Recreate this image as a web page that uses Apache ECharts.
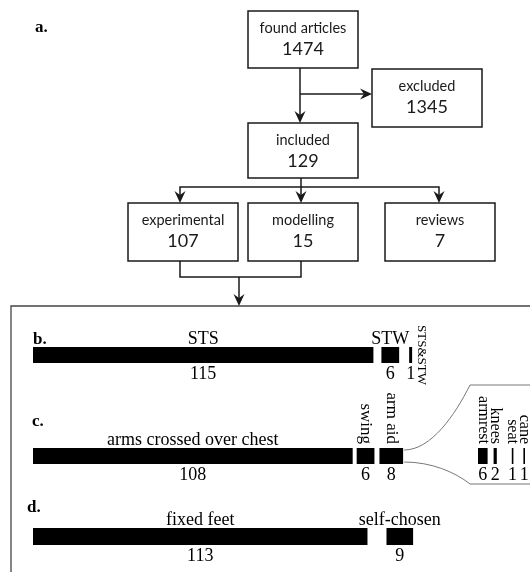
<!DOCTYPE html>
<html><head><meta charset="utf-8">
<script src="https://cdn.jsdelivr.net/npm/echarts@6/dist/echarts.min.js"></script>
<style>html,body{margin:0;padding:0;background:#fff}#c{width:530px;height:572px}</style>
</head><body><div id="c"></div>
<script>
// ---- data ----
const flowLabels = ['found articles', 'excluded', 'included', 'experimental', 'modelling', 'reviews'];
const flowCounts = [1474, 1345, 129, 107, 15, 7];
const taskCategories = ['STS', 'STW', 'STS&STW'];
const taskCounts = [115, 6, 1];
const armCategories = ['arms crossed over chest', 'swing', 'arm aid'];
const armCounts = [108, 6, 8];
const aidCategories = ['armrest', 'knees', 'seat', 'cane'];
const aidCounts = [6, 2, 1, 1];
const feetCategories = ['fixed feet', 'self-chosen'];
const feetCounts = [113, 9];
const sectionLabels = ['a.', 'b.', 'c.', 'd.'];

// ---- layout / style ----
const chart = echarts.init(document.getElementById('c'), null, { renderer: 'canvas' });
const SERIF = '"Liberation Serif", "Times New Roman", serif';
const SANS = 'Lato, "Open Sans", sans-serif';
const INK = '#1a1a1a';
const boxes = [[248, 11, 110, 57], [372, 69, 110, 58], [248, 123, 110, 55], [128, 203, 110, 58], [248, 203, 110, 58], [385, 203, 110, 58]];
const sectionPos = [[35, 28], [33, 340], [32, 422], [27, 508]];

function arrowHead(tx, ty, dir) {
  const L = 12, W = 5.5, N = 8;
  const pts = dir === 'down'
    ? [[tx, ty], [tx - W, ty - L], [tx, ty - N], [tx + W, ty - L]]
    : [[tx, ty], [tx - L, ty - W], [tx - N, ty], [tx - L, ty + W]];
  return { type: 'polygon', shape: { points: pts }, style: { fill: INK }, silent: true };
}
function line(points) {
  return { type: 'polyline', shape: { points }, style: { stroke: INK, lineWidth: 1.5, fill: null }, silent: true };
}
function txt(x, y, str, align, valign, rot, font, fill) {
  return { type: 'text', x, y, rotation: rot || 0, silent: true,
    style: { text: str, font, fill: fill || '#000', align, verticalAlign: valign, textAlign: align, textVerticalAlign: valign } };
}

const graphics = [];
graphics.push({ type: 'rect', shape: { x: 11, y: 306, width: 600, height: 400 }, style: { fill: null, stroke: '#444', lineWidth: 1.3 }, silent: true });
// connectors
graphics.push(line([[300, 68], [300, 116]]), arrowHead(300, 123, 'down'));
graphics.push(line([[300, 94], [365, 94]]), arrowHead(372, 94, 'right'));
graphics.push(line([[301, 178], [301, 196]]), arrowHead(301, 203, 'down'));
graphics.push(line([[180, 196], [180, 187], [439, 187], [439, 196]]), arrowHead(180, 203, 'down'), arrowHead(439, 203, 'down'));
graphics.push(line([[180, 261], [180, 277], [301, 277], [301, 261]]));
graphics.push(line([[239, 277], [239, 299]]), arrowHead(239, 306, 'down'));
// boxes
boxes.forEach((b, i) => {
  graphics.push({ type: 'rect', shape: { x: b[0], y: b[1], width: b[2], height: b[3] }, style: { fill: '#fff', stroke: INK, lineWidth: 1.5 }, silent: true });
  const cx = b[0] + b[2] / 2;
  graphics.push(txt(cx, b[1] + 17, flowLabels[i], 'center', 'middle', 0, '14.5px ' + SANS, INK));
  graphics.push(txt(cx, b[1] + 38, String(flowCounts[i]), 'center', 'middle', 0, '18px ' + SANS, INK));
});
sectionLabels.forEach((s, i) => {
  graphics.push(txt(sectionPos[i][0], sectionPos[i][1], s, 'left', 'middle', 0, 'bold 17px ' + SERIF, '#000'));
});

// ---- bar rows ----
const fontTop = '18px ' + SERIF, fontVal = '18px ' + SERIF, fontSide = '13px ' + SERIF;

function rowSeries(gi, cats, vals, opt) {
  let cum = 0;
  const data = vals.map((v, i) => { const d = [cum, cum + v, i, 0]; cum += v; return d; });
  const fontRot = (opt.rotSize || 17) + 'px ' + SERIF;
  return {
    type: 'custom', xAxisIndex: gi, yAxisIndex: gi, coordinateSystem: 'cartesian2d',
    encode: { x: [0, 1], y: 3 }, data, silent: true, clip: false, animation: false,
    renderItem(params, api) {
      const i = api.value(2);
      const off = opt.offsets[i];
      const s = api.coord([api.value(0), 0]);
      const e = api.coord([api.value(1), 0]);
      const h = api.size([0, 1])[1];
      const x0 = s[0] + off, x1 = e[0] + off, yc = s[1], top = yc - h / 2, bot = yc + h / 2, cx = (x0 + x1) / 2;
      const ch = [{ type: 'rect', shape: { x: x0, y: top, width: x1 - x0, height: h }, style: { fill: '#000' } }];
      const mode = opt.modes[i];
      if (mode === 'top') ch.push(txt(cx, top + 1, cats[i], 'center', 'bottom', 0, fontTop));
      else if (mode === 'rot') ch.push(txt(cx, top - 4, cats[i], 'right', 'middle', -Math.PI / 2, fontRot));
      else if (mode === 'side') ch.push(txt(x1 + 9, yc, cats[i], 'center', 'middle', -Math.PI / 2, fontSide));
      ch.push(txt(cx, bot + 2, String(api.value(1) - api.value(0)), 'center', 'top', 0, fontVal));
      if (opt.callout === i) {
        const cs = { stroke: '#777', lineWidth: 1, fill: null };
        ch.push({ type: 'bezierCurve', shape: { x1: x1 + 1, y1: top + 2, cpx1: x1 + 28, cpy1: top + 2, cpx2: 455, cpy2: 415, x2: 470, y2: 385 }, style: cs });
        ch.push({ type: 'line', shape: { x1: 470, y1: 385, x2: 540, y2: 385 }, style: cs });
        ch.push({ type: 'bezierCurve', shape: { x1: x1 + 1, y1: bot - 2, cpx1: x1 + 28, cpy1: bot - 2, cpx2: 455, cpy2: 472, x2: 470, y2: 484 }, style: cs });
        ch.push({ type: 'line', shape: { x1: 470, y1: 484, x2: 540, y2: 484 }, style: cs });
      }
      return { type: 'group', children: ch };
    }
  };
}

const grids = [
  { left: 33, top: 347, width: 444, height: 16 },
  { left: 33, top: 448, width: 444, height: 16 },
  { left: 478, top: 448, width: 48, height: 16 },
  { left: 33, top: 528, width: 444, height: 17 }
];
const xMax = [150, 150, 30, 150];

chart.setOption({
  animation: false,
  grid: grids,
  xAxis: grids.map((g, i) => ({ gridIndex: i, type: 'value', min: 0, max: xMax[i], show: false })),
  yAxis: grids.map((g, i) => ({ gridIndex: i, type: 'category', data: ['row'], show: false })),
  series: [
    rowSeries(0, taskCategories, taskCounts, { offsets: [0, 8, 18], modes: ['top', 'top', 'side'] }),
    rowSeries(1, armCategories, armCounts, { offsets: [0, 4, 9], modes: ['top', 'rot', 'rot'], callout: 2, rotSize: 17 }),
    rowSeries(2, aidCategories, aidCounts, { offsets: [0, 6, 21, 31], modes: ['rot', 'rot', 'rot', 'rot'], rotSize: 16 }),
    rowSeries(3, feetCategories, feetCounts, { offsets: [0, 19], modes: ['top', 'top'] })
  ],
  graphic: { elements: graphics }
});
</script>
</body></html>
